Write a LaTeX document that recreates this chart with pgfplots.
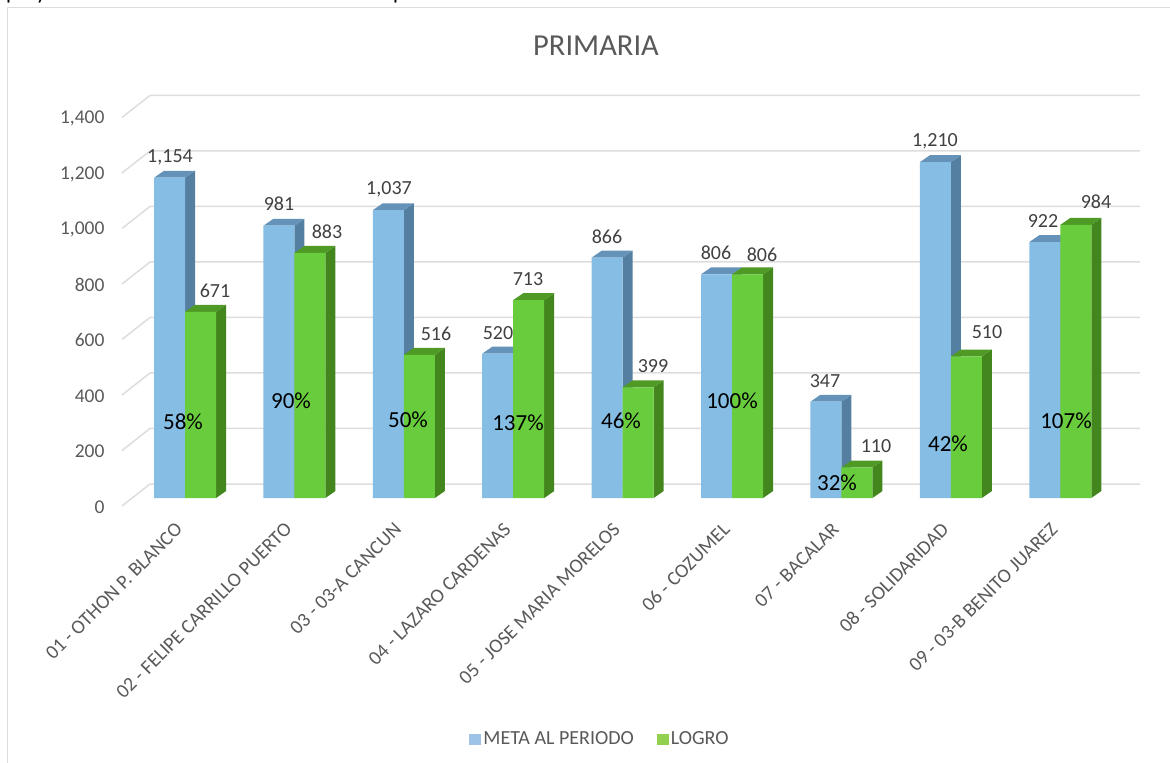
\documentclass[border=0pt]{standalone}
\usepackage{pgfplots}
\pgfplotsset{compat=1.18}
\usepackage{fontspec}
\setmainfont{Carlito}
\definecolor{bluef}{HTML}{85BDE5}
\definecolor{blues}{HTML}{557FA0}
\definecolor{bluet}{HTML}{6492B8}
\definecolor{greenf}{HTML}{68CC3C}
\definecolor{greens}{HTML}{43861E}
\definecolor{greent}{HTML}{4E9A24}
\definecolor{legb}{HTML}{9DC3E6}
\definecolor{legg}{HTML}{92D050}
\definecolor{gridc}{HTML}{DDDDDD}
\definecolor{txt}{HTML}{595959}
\definecolor{lab}{HTML}{404040}
% side and top of a bar: #1 category, #2 value, #3 offset of the bar's right edge from the category, #4 side colour, #5 top colour
\newcommand\cuboid[5]{%
  \pgfmathsetmacro\xr{#1+#3}%
  \pgfmathsetmacro\xl{#1+#3-0.2834}%
  \pgfmathsetmacro\xd{#1+#3+0.0914}%
  \pgfmathsetmacro\xe{#1+#3-0.2834+0.0914}%
  \pgfmathsetmacro\vv{#2+25}%
  \addplot[fill=#4,draw=none,forget plot] coordinates {(\xr,0) (\xd,25) (\xd,\vv) (\xr,#2)} -- cycle;
  \addplot[fill=#5,draw=none,forget plot] coordinates {(\xl,#2) (\xe,\vv) (\xd,\vv) (\xr,#2)} -- cycle;
}
\newcommand\gridl[1]{%
  \pgfmathsetmacro\va{#1-28.8}%
  \pgfmathsetmacro\vb{#1+50.45}%
  \addplot[gridc,line width=1.5pt,forget plot] coordinates {(-0.576,\va) (-0.32,\vb) (8.729,\vb)};
}
\begin{document}
\begin{tikzpicture}[x=1pt,y=-1pt]
\useasboundingbox (0,0) rectangle (1170,763);
\begin{scope}
\clip (0,0) rectangle (1170,6);
\node[anchor=base,text=black,font=\fontsize{22}{22}\selectfont,inner sep=0pt] at (12,-1) {p};
\node[anchor=base,text=black,font=\fontsize{22}{22}\selectfont,inner sep=0pt] at (41,-1) {y};
\node[anchor=base,text=black,font=\fontsize{22}{22}\selectfont,inner sep=0pt] at (399,-1) {p};
\end{scope}
\draw[gridc,line width=1pt] (7.5,763) -- (7.5,7.5) -- (1170,7.5);
\begin{axis}[
  at={(122pt,-498pt)},anchor=south west,
  scale only axis,width=1018pt,height=403pt,
  xmin=-0.576,xmax=8.729,ymin=0,ymax=1452,clip=false,
  axis line style={draw=none},
  major tick length=0pt,
  ytick={0,200,...,1400},
  yticklabel style={font=\fontsize{19.5}{19.5}\selectfont,text=txt,xshift=-14pt,yshift=-9pt,/pgf/number format/assume math mode=true},
  /pgf/number format/1000 sep={,},
  xtick={0,...,8},
  xticklabels={01 - OTHON P. BLANCO,02 - FELIPE CARRILLO PUERTO,03 - 03-A CANCUN,04 - LAZARO CARDENAS,05 - JOSE MARIA MORELOS,06 - COZUMEL,07 - BACALAR,08 - SOLIDARIDAD,09 - 03-B BENITO JUAREZ},
  xticklabel style={font=\fontsize{19.8}{19.8}\selectfont,text=txt,rotate=45,anchor=north east,inner sep=0pt,xshift=-24pt,yshift=-9pt},
  legend style={at={(600pt-122pt,498pt-731pt)},anchor=center,draw=none,fill=none,font=\fontsize{20}{20}\selectfont,text=txt,legend columns=2,/tikz/every even column/.append style={column sep=21pt}},
  legend image code/.code={\fill[#1] (0pt,-5.5pt) rectangle (12pt,5.5pt);},
]
\gridl{0}\gridl{200}\gridl{400}\gridl{600}\gridl{800}\gridl{1000}\gridl{1200}\gridl{1400}
\cuboid{0}{1154}{0}{blues}{bluet}
\cuboid{1}{981}{0}{blues}{bluet}
\cuboid{2}{1037}{0}{blues}{bluet}
\cuboid{3}{520}{0}{blues}{bluet}
\cuboid{4}{866}{0}{blues}{bluet}
\cuboid{5}{806}{0}{blues}{bluet}
\cuboid{6}{347}{0}{blues}{bluet}
\cuboid{7}{1210}{0}{blues}{bluet}
\cuboid{8}{922}{0}{blues}{bluet}
\addplot[ybar,bar width=0.2834,fill=bluef,draw=none,bar shift=-0.1417,forget plot] coordinates {(0,1154)(1,981)(2,1037)(3,520)(4,866)(5,806)(6,347)(7,1210)(8,922)};
\cuboid{0}{671}{0.2834}{greens}{greent}
\cuboid{1}{883}{0.2834}{greens}{greent}
\cuboid{2}{516}{0.2834}{greens}{greent}
\cuboid{3}{713}{0.2834}{greens}{greent}
\cuboid{4}{399}{0.2834}{greens}{greent}
\cuboid{5}{806}{0.2834}{greens}{greent}
\cuboid{6}{110}{0.2834}{greens}{greent}
\cuboid{7}{510}{0.2834}{greens}{greent}
\cuboid{8}{984}{0.2834}{greens}{greent}
\addplot[ybar,bar width=0.2834,fill=greenf,draw=none,bar shift=0.1417,forget plot] coordinates {(0,671)(1,883)(2,516)(3,713)(4,399)(5,806)(6,110)(7,510)(8,984)};
\addlegendimage{fill=legb,draw=none}
\addlegendentry{META AL PERIODO}
\addlegendimage{fill=legg,draw=none}
\addlegendentry{LOGRO}
\end{axis}
\node[text=txt,font=\fontsize{30.5}{30.5}\selectfont] at (596,46) {PRIMARIA};
\begin{scope}[every node/.style={text=lab,font=\fontsize{20}{20}\selectfont,inner sep=0pt}]
\node at (170,157) {1,154};
\node at (279,204) {981};
\node at (389,189) {1,037};
\node at (498,333) {520};
\node at (607,237) {866};
\node at (716,253) {806};
\node at (825,381) {347};
\node at (935,141) {1,210};
\node at (1043,221) {922};
\node at (215,291) {671};
\node at (327,232) {883};
\node at (436,334) {516};
\node at (528,279) {713};
\node at (653,366) {399};
\node at (762,255) {806};
\node at (876,446) {110};
\node at (987,332) {510};
\node at (1096,202) {984};
\end{scope}
\begin{scope}[every node/.style={text=black,font=\fontsize{23}{23}\selectfont,inner sep=0pt}]
\node at (183,422) {58\%};
\node at (291,401) {90\%};
\node at (408,420) {50\%};
\node at (518,423) {137\%};
\node at (621,421) {46\%};
\node at (732,401) {100\%};
\node at (837,483) {32\%};
\node at (948,444) {42\%};
\node at (1066,421) {107\%};
\end{scope}
\end{tikzpicture}
\end{document}
